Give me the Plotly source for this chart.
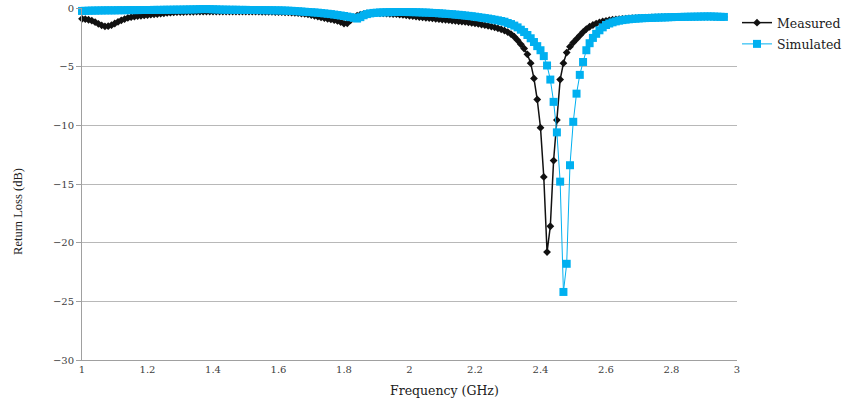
import numpy as np
import plotly.graph_objects as go

# Frequency sweep (GHz), 0.01 GHz step from 1.00 to 2.96
freq_start, freq_step, n_points = 1.00, 0.01, 197
freq = np.round(freq_start + freq_step * np.arange(n_points), 2)

# Measured return loss (dB)
measured = [
    -0.92, -0.95, -1.00, -1.08, -1.20, -1.35, -1.48, -1.56, -1.55, -1.46,
    -1.32, -1.18, -1.05, -0.94, -0.85, -0.78, -0.73, -0.69, -0.66, -0.63,
    -0.60, -0.57, -0.54, -0.51, -0.48, -0.45, -0.42, -0.40, -0.38, -0.36,
    -0.35, -0.34, -0.33, -0.32, -0.32, -0.31, -0.31, -0.31, -0.30, -0.30,
    -0.30, -0.30, -0.30, -0.30, -0.30, -0.30, -0.30, -0.30, -0.30, -0.30,
    -0.30, -0.30, -0.31, -0.31, -0.31, -0.32, -0.32, -0.33, -0.33, -0.34,
    -0.35, -0.36, -0.37, -0.38, -0.40, -0.42, -0.44, -0.47, -0.50, -0.54,
    -0.60, -0.66, -0.73, -0.80, -0.86, -0.92, -0.97, -1.03, -1.10, -1.20,
    -1.33, -1.30, -1.05, -0.82, -0.66, -0.56, -0.50, -0.47, -0.45, -0.44,
    -0.44, -0.45, -0.46, -0.47, -0.49, -0.51, -0.53, -0.56, -0.59, -0.62,
    -0.66, -0.69, -0.73, -0.77, -0.80, -0.83, -0.86, -0.89, -0.92, -0.95,
    -0.98, -1.01, -1.04, -1.07, -1.10, -1.13, -1.16, -1.19, -1.23, -1.27,
    -1.31, -1.36, -1.41, -1.46, -1.52, -1.58, -1.65, -1.73, -1.82, -1.92,
    -2.05, -2.22, -2.45, -2.75, -3.10, -3.45, -3.95, -4.70, -6.00, -7.80,
    -10.2, -14.4, -20.8, -18.6, -13.0, -9.55, -6.10, -4.70, -3.80, -3.30,
    -2.95, -2.65, -2.35, -2.05, -1.80, -1.60, -1.45, -1.33, -1.23, -1.15,
    -1.09, -1.04, -1.00, -0.97, -0.94, -0.92, -0.90, -0.88, -0.87, -0.86,
    -0.85, -0.84, -0.83, -0.82, -0.81, -0.80, -0.80, -0.79, -0.79, -0.78,
    -0.78, -0.77, -0.77, -0.76, -0.76, -0.75, -0.75, -0.75, -0.74, -0.74,
    -0.74, -0.74, -0.74, -0.75, -0.75, -0.76, -0.76,
]

# Simulated return loss (dB)
simulated = [
    -0.25, -0.24, -0.23, -0.22, -0.22, -0.21, -0.21, -0.20, -0.20, -0.20,
    -0.20, -0.19, -0.19, -0.19, -0.18, -0.18, -0.18, -0.18, -0.17, -0.17,
    -0.17, -0.17, -0.16, -0.16, -0.16, -0.15, -0.15, -0.15, -0.14, -0.14,
    -0.14, -0.13, -0.13, -0.12, -0.12, -0.11, -0.10, -0.09, -0.09, -0.10,
    -0.11, -0.12, -0.13, -0.14, -0.14, -0.15, -0.15, -0.15, -0.16, -0.16,
    -0.16, -0.17, -0.17, -0.17, -0.18, -0.18, -0.18, -0.19, -0.19, -0.20,
    -0.20, -0.21, -0.22, -0.23, -0.24, -0.26, -0.28, -0.30, -0.32, -0.34,
    -0.36, -0.38, -0.40, -0.43, -0.46, -0.49, -0.52, -0.56, -0.60, -0.64,
    -0.68, -0.73, -0.78, -0.84, -0.90, -0.78, -0.62, -0.52, -0.46, -0.42,
    -0.40, -0.38, -0.37, -0.36, -0.35, -0.35, -0.34, -0.34, -0.34, -0.34,
    -0.35, -0.35, -0.36, -0.37, -0.38, -0.39, -0.40, -0.42, -0.43, -0.45,
    -0.47, -0.49, -0.51, -0.53, -0.56, -0.58, -0.61, -0.64, -0.67, -0.70,
    -0.74, -0.78, -0.82, -0.86, -0.90, -0.95, -1.00, -1.05, -1.11, -1.17,
    -1.28, -1.37, -1.50, -1.65, -1.85, -2.05, -2.30, -2.58, -2.90, -3.25,
    -3.60, -4.10, -4.90, -6.10, -8.00, -10.6, -14.8, -24.2, -21.8, -13.4,
    -9.70, -7.30, -5.70, -4.60, -3.60, -3.00, -2.55, -2.20, -1.90, -1.65,
    -1.45, -1.32, -1.22, -1.14, -1.08, -1.03, -0.99, -0.96, -0.93, -0.91,
    -0.89, -0.87, -0.86, -0.85, -0.84, -0.83, -0.82, -0.81, -0.80, -0.79,
    -0.78, -0.77, -0.77, -0.76, -0.75, -0.75, -0.74, -0.74, -0.73, -0.73,
    -0.72, -0.72, -0.72, -0.73, -0.74, -0.75, -0.76,
]

series_names = ["Measured", "Simulated"]
x_title = "Frequency (GHz)"
y_title = "Return Loss (dB)"

serif = "DejaVu Serif"
times = "Liberation Serif"
tick_color = "#404040"
grid_color = "#b8b8b8"
axis_color = "#a0a0a0"

fig = go.Figure()
fig.add_trace(go.Scatter(
    x=freq, y=measured, name=series_names[0], mode="lines+markers",
    line=dict(color="#111111", width=1.5),
    marker=dict(symbol="diamond", size=6, color="#111111"),
    legendgroup="m", cliponaxis=False,
))
fig.add_trace(go.Scatter(
    x=freq, y=simulated, name=series_names[1], mode="lines+markers",
    line=dict(color="#00B0F0", width=1),
    marker=dict(symbol="square", size=8, color="#00B0F0"),
    legendgroup="s", cliponaxis=False,
))

fig.update_layout(
    width=852, height=402,
    margin=dict(l=82, r=115, t=8, b=42, autoexpand=False),
    paper_bgcolor="white", plot_bgcolor="white",
    font=dict(family=serif, size=10, color=tick_color),
    showlegend=True,
    legend=dict(
        x=1.0, xanchor="left", y=1.0, yanchor="top",
        font=dict(family=serif, size=12.5, color="#202020"),
        traceorder="grouped", tracegroupgap=2,
        bgcolor="rgba(0,0,0,0)", borderwidth=0,
        itemwidth=30,
    ),
    xaxis=dict(
        range=[1, 3], dtick=0.2, tick0=1, automargin=False,
        showgrid=False, zeroline=False,
        showline=True, linecolor=axis_color, linewidth=1,
        ticks="", tickfont=dict(family=serif, size=10, color=tick_color),
    ),
    yaxis=dict(
        range=[-30, 0], dtick=5, tick0=0, automargin=False,
        showgrid=True, gridcolor=grid_color, gridwidth=1,
        zeroline=False,
        showline=True, linecolor=axis_color, linewidth=1,
        ticks="outside", ticklen=5, tickcolor=axis_color,
        tickfont=dict(family=serif, size=10, color=tick_color),
    ),
    annotations=[
        dict(text=x_title, xref="paper", yref="paper", x=0.554, y=-0.088,
             xanchor="center", yanchor="middle", showarrow=False,
             font=dict(family=serif, size=12.5, color="#202020")),
        dict(text=y_title, xref="paper", yref="paper", x=-0.098, y=0.423,
             xanchor="center", yanchor="middle", showarrow=False, textangle=-90,
             font=dict(family=times, size=12.5, color="#202020")),
    ],
)

fig.write_html("out.html")
